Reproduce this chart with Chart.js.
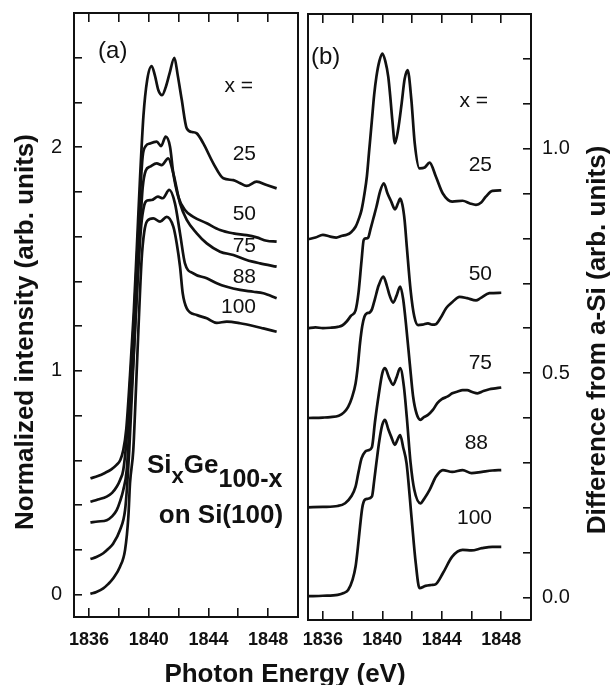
<!DOCTYPE html>
<html>
<head>
<meta charset="utf-8">
<title>Si K-edge XANES, SixGe100-x on Si(100)</title>
<script src="https://cdn.jsdelivr.net/npm/chart.js@4.4.1/dist/chart.umd.min.js"></script>
<style>
  html, body { margin: 0; padding: 0; background: #fff; }
  #wrap { position: relative; width: 610px; height: 685px; }
  #wrap canvas { position: absolute; left: 0; top: 0; }
</style>
</head>
<body>
<div id="wrap">
  <canvas id="chartA" width="610" height="685"></canvas>
  <canvas id="chartB" width="610" height="685"></canvas>
</div>
<script>
// Si content x of each film, top to bottom
const compositions = ['25', '50', '75', '88', '100'];

// Photon energy ticks (eV), shared by both panels
const energyTicks = [1836, 1838, 1840, 1842, 1844, 1846, 1848];
const energyLabels = [1836, 1840, 1844, 1848];

// Panel (a) y ticks: normalized intensity
const intensityTicks = [0, 0.2, 0.4, 0.6, 0.8, 1, 1.2, 1.4, 1.6, 1.8, 2, 2.2, 2.4];
const intensityLabels = [0, 1, 2];

// Panel (b) y ticks: difference from a-Si
const diffTicks = [0, 0.1, 0.2, 0.3, 0.4, 0.5, 0.6, 0.7, 0.8, 0.9, 1, 1.1, 1.2];
const diffLabels = [0, 0.5, 1];

// Panel (a): normalized spectra (offset)
const a25E = [1836.1, 1836.6, 1837.1, 1837.5, 1837.85, 1838.1, 1838.3, 1838.5, 1838.75, 1839.0, 1839.2, 1839.42, 1839.65, 1839.9, 1840.2, 1840.42, 1840.65, 1840.9, 1841.15, 1841.4, 1841.72, 1841.95, 1842.21, 1842.55, 1842.9, 1843.22, 1843.66, 1844.33, 1845.0, 1845.67, 1846.1, 1846.56, 1847.23, 1847.9, 1848.57];
const a25I = [0.52, 0.53, 0.545, 0.56, 0.58, 0.602, 0.646, 0.74, 0.98, 1.26, 1.54, 1.86, 2.14, 2.30, 2.363, 2.32, 2.255, 2.233, 2.27, 2.33, 2.40, 2.32, 2.214, 2.084, 2.068, 2.062, 2.017, 1.928, 1.861, 1.853, 1.84, 1.827, 1.846, 1.831, 1.816];

const a50E = [1836.1, 1836.6, 1837.19, 1837.55, 1837.86, 1838.1, 1838.3, 1838.5, 1838.75, 1839.0, 1839.2, 1839.42, 1839.6, 1839.8, 1840.09, 1840.54, 1840.83, 1841.14, 1841.43, 1841.65, 1841.98, 1842.43, 1842.99, 1843.89, 1844.78, 1845.67, 1846.56, 1847.23, 1847.9, 1848.57];
const a50I = [0.415, 0.425, 0.438, 0.455, 0.482, 0.515, 0.557, 0.68, 0.93, 1.21, 1.48, 1.78, 1.96, 2.005, 2.017, 2.025, 2.005, 2.047, 2.002, 1.883, 1.779, 1.719, 1.689, 1.66, 1.63, 1.615, 1.607, 1.597, 1.582, 1.578];

const a75E = [1836.1, 1836.6, 1837.19, 1837.55, 1837.86, 1838.1, 1838.3, 1838.53, 1838.75, 1839.0, 1839.2, 1839.42, 1839.6, 1839.8, 1840.09, 1840.54, 1840.87, 1841.31, 1841.65, 1842.1, 1842.55, 1843.22, 1843.89, 1844.78, 1845.67, 1846.56, 1847.46, 1848.57];
const a75I = [0.323, 0.327, 0.333, 0.35, 0.378, 0.42, 0.468, 0.557, 0.80, 1.08, 1.35, 1.63, 1.82, 1.895, 1.913, 1.928, 1.92, 1.95, 1.883, 1.749, 1.675, 1.615, 1.57, 1.533, 1.518, 1.496, 1.481, 1.466];

const a88E = [1836.1, 1836.5, 1836.96, 1837.3, 1837.63, 1838.08, 1838.42, 1838.57, 1838.7, 1838.9, 1839.1, 1839.3, 1839.5, 1839.7, 1839.9, 1840.2, 1840.62, 1840.94, 1841.38, 1841.76, 1842.1, 1842.43, 1842.99, 1843.89, 1844.56, 1845.23, 1846.12, 1847.01, 1847.68, 1848.57];
const a88I = [0.159, 0.168, 0.185, 0.205, 0.229, 0.289, 0.378, 0.498, 0.646, 0.93, 1.2, 1.45, 1.65, 1.74, 1.762, 1.764, 1.779, 1.772, 1.809, 1.749, 1.615, 1.481, 1.436, 1.414, 1.392, 1.376, 1.362, 1.354, 1.347, 1.325];

const a100E = [1836.1, 1836.5, 1836.96, 1837.3, 1837.63, 1838.08, 1838.42, 1838.64, 1838.75, 1838.97, 1839.15, 1839.31, 1839.53, 1839.7, 1839.9, 1840.31, 1840.76, 1841.21, 1841.65, 1841.88, 1842.1, 1842.28, 1842.55, 1843.22, 1843.89, 1844.56, 1845.23, 1846.12, 1847.01, 1847.68, 1848.57];
const a100I = [0.003, 0.012, 0.028, 0.048, 0.073, 0.125, 0.2, 0.348, 0.498, 0.646, 0.92, 1.18, 1.50, 1.62, 1.67, 1.682, 1.667, 1.689, 1.645, 1.57, 1.466, 1.347, 1.28, 1.25, 1.235, 1.215, 1.22, 1.213, 1.201, 1.19, 1.175];

// Panel (b): difference spectra (offset)
const b25E = [1835.0, 1835.5, 1836.0, 1836.5, 1836.9, 1837.3, 1837.6, 1837.9, 1838.2, 1838.4, 1838.6, 1838.8, 1838.96, 1839.1, 1839.3, 1839.45, 1839.6, 1839.8, 1840.0, 1840.2, 1840.4, 1840.55, 1840.67, 1840.85, 1841.05, 1841.3, 1841.5, 1841.7, 1841.95, 1842.18, 1842.5, 1842.85, 1843.18, 1843.6, 1844.07, 1844.7, 1845.4, 1845.9, 1846.3, 1846.65, 1846.96, 1847.4, 1848.0];
const b25I = [0.798, 0.802, 0.808, 0.804, 0.802, 0.806, 0.808, 0.814, 0.826, 0.842, 0.863, 0.90, 0.938, 0.99, 1.064, 1.12, 1.160, 1.195, 1.212, 1.195, 1.160, 1.11, 1.064, 1.012, 1.04, 1.101, 1.155, 1.175, 1.11, 1.012, 0.956, 0.958, 0.969, 0.938, 0.90, 0.882, 0.884, 0.878, 0.875, 0.88, 0.893, 0.906, 0.907];

const b50E = [1835.0, 1835.5, 1836.0, 1836.5, 1837.0, 1837.3, 1837.6, 1837.9, 1838.2, 1838.4, 1838.6, 1838.75, 1838.9, 1839.05, 1839.2, 1839.4, 1839.6, 1839.85, 1840.1, 1840.35, 1840.6, 1840.85, 1841.05, 1841.2, 1841.35, 1841.5, 1841.65, 1841.9, 1842.15, 1842.4, 1842.7, 1843.07, 1843.35, 1843.6, 1843.9, 1844.3, 1844.7, 1845.2, 1845.7, 1846.3, 1846.6, 1847.2, 1848.0];
const b50I = [0.600, 0.602, 0.600, 0.601, 0.603, 0.606, 0.615, 0.628, 0.64, 0.68, 0.75, 0.797, 0.80, 0.802, 0.82, 0.845, 0.87, 0.905, 0.923, 0.90, 0.882, 0.865, 0.878, 0.889, 0.875, 0.84, 0.78, 0.685, 0.626, 0.607, 0.608, 0.611, 0.608, 0.609, 0.622, 0.645, 0.658, 0.670, 0.667, 0.662, 0.667, 0.678, 0.679];

const b75E = [1835.0, 1836.0, 1836.5, 1837.07, 1837.4, 1837.7, 1837.95, 1838.2, 1838.35, 1838.5, 1838.65, 1838.8, 1838.95, 1839.15, 1839.3, 1839.5, 1839.75, 1840.07, 1840.3, 1840.5, 1840.73, 1840.95, 1841.2, 1841.4, 1841.63, 1841.85, 1842.07, 1842.3, 1842.56, 1842.8, 1843.07, 1843.4, 1843.7, 1844.0, 1844.4, 1844.7, 1845.07, 1845.4, 1845.7, 1846.05, 1846.4, 1846.8, 1847.2, 1847.6, 1848.0];
const b75I = [0.400, 0.401, 0.402, 0.405, 0.412, 0.425, 0.445, 0.477, 0.515, 0.567, 0.605, 0.626, 0.633, 0.635, 0.642, 0.665, 0.695, 0.715, 0.695, 0.672, 0.657, 0.672, 0.693, 0.665, 0.596, 0.52, 0.448, 0.41, 0.396, 0.402, 0.407, 0.418, 0.433, 0.442, 0.448, 0.455, 0.459, 0.462, 0.462, 0.458, 0.455, 0.460, 0.464, 0.466, 0.468];

const b88E = [1835.0, 1836.0, 1837.0, 1837.5, 1837.9, 1838.2, 1838.4, 1838.6, 1838.85, 1839.05, 1839.3, 1839.5, 1839.75, 1840.0, 1840.18, 1840.45, 1840.73, 1840.95, 1841.2, 1841.45, 1841.65, 1841.9, 1842.15, 1842.56, 1842.85, 1843.18, 1843.6, 1844.07, 1844.7, 1845.4, 1846.0, 1846.7, 1847.4, 1848.0];
const b88I = [0.201, 0.202, 0.204, 0.21, 0.225, 0.247, 0.28, 0.31, 0.325, 0.328, 0.335, 0.39, 0.45, 0.50, 0.511, 0.49, 0.474, 0.49, 0.511, 0.47, 0.40, 0.30, 0.24, 0.21, 0.222, 0.24, 0.269, 0.284, 0.28, 0.284, 0.277, 0.28, 0.283, 0.284];

const b100E = [1835.0, 1836.0, 1837.0, 1837.4, 1837.7, 1838.0, 1838.2, 1838.35, 1838.5, 1838.65, 1838.8, 1839.0, 1839.3, 1839.45, 1839.6, 1839.8, 1840.0, 1840.18, 1840.4, 1840.6, 1840.85, 1841.0, 1841.2, 1841.4, 1841.63, 1841.96, 1842.25, 1842.5, 1842.9, 1843.3, 1843.6, 1844.07, 1844.7, 1845.4, 1846.0, 1846.7, 1847.4, 1848.0];
const b100I = [0.003, 0.004, 0.006, 0.01, 0.017, 0.04, 0.069, 0.11, 0.158, 0.20, 0.217, 0.22, 0.225, 0.26, 0.30, 0.35, 0.385, 0.396, 0.375, 0.358, 0.340, 0.35, 0.362, 0.335, 0.299, 0.180, 0.076, 0.021, 0.026, 0.028, 0.03, 0.054, 0.091, 0.106, 0.105, 0.11, 0.113, 0.113];

const FONT = '"Liberation Sans", Arial, Helvetica, sans-serif';
const INK = '#111';

function toPoints(es, vs) {
  return es.map((e, i) => ({ x: e, y: vs[i] }));
}

function curve(label, es, vs) {
  return {
    label: label,
    data: toPoints(es, vs),
    borderColor: INK,
    borderWidth: 2.7,
    pointRadius: 0,
    fill: false,
    cubicInterpolationMode: 'monotone'
  };
}

function hasLabel(list, v) {
  return list.some(l => Math.abs(l - v) < 1e-6);
}

function setTicks(list) {
  return scale => { scale.ticks = list.map(v => ({ value: v })); };
}

// fixed box size, and no extra label overflow pushing the plot area around
function fixSize(w, h) {
  return s => {
    if (w !== null) s.width = w;
    if (h !== null) s.height = h;
    s.paddingTop = 0; s.paddingBottom = 0; s.paddingLeft = 0; s.paddingRight = 0;
  };
}

// inward tick marks via negative tickLength
function tickGrid(len) {
  return { display: true, drawOnChartArea: false, drawTicks: true, tickLength: -len, color: INK, lineWidth: 1.6 };
}

const frame = { display: true, color: INK, width: 2 };

// draws panel letters, compositions and axis titles
const textPlugin = {
  id: 'panelText',
  afterDraw(chart, args, opts) {
    const { ctx, scales } = chart;
    ctx.save();
    ctx.fillStyle = INK;
    (opts.labels || []).forEach(l => {
      let px = scales.x.getPixelForValue(l.e);
      const py = scales.y.getPixelForValue(l.v);
      ctx.textBaseline = l.baseline || 'middle';
      if (l.runs) {
        ctx.textAlign = 'left';
        l.runs.forEach(r => {
          ctx.font = 'bold ' + r.size + 'px ' + FONT;
          ctx.fillText(r.t, px, py + r.dy);
          px += ctx.measureText(r.t).width;
        });
      } else {
        ctx.font = l.font;
        ctx.textAlign = l.align || 'left';
        ctx.fillText(l.text, px, py);
      }
    });
    (opts.titles || []).forEach(t => {
      ctx.save();
      ctx.translate(t.x, t.y);
      ctx.rotate(t.rot || 0);
      ctx.font = 'bold 26px ' + FONT;
      ctx.textAlign = 'center';
      ctx.textBaseline = 'alphabetic';
      ctx.fillText(t.text, 0, 0);
      ctx.restore();
    });
    ctx.restore();
  }
};

const numFont = 'normal 21px ' + FONT;

function energyAxis(pos, height, labelled, pad) {
  return {
    type: 'linear', position: pos, min: 1835, max: 1850,
    afterBuildTicks: setTicks(energyTicks),
    afterFit: fixSize(null, height),
    grid: tickGrid(9),
    border: frame,
    ticks: {
      display: labelled, autoSkip: false, maxRotation: 0, padding: pad, color: INK,
      font: { family: FONT, size: 18, weight: 'bold', lineHeight: 1 },
      callback: v => hasLabel(energyLabels, v) ? String(v) : ''
    }
  };
}

function plainEdge(pos, min, max) {
  return {
    type: 'linear', position: pos, min: min, max: max,
    afterFit: fixSize(0, null),
    grid: { display: false, drawTicks: false, drawOnChartArea: false },
    border: frame,
    ticks: { display: false }
  };
}

const common = {
  responsive: false,
  animation: false,
  events: [],
  plugins: { legend: { display: false }, tooltip: { enabled: false } }
};

const series = [
  [a25E, a25I, b25E, b25I],
  [a50E, a50I, b50E, b50I],
  [a75E, a75I, b75E, b75I],
  [a88E, a88I, b88E, b88I],
  [a100E, a100I, b100E, b100I]
];

new Chart(document.getElementById('chartA'), {
  type: 'line',
  data: { datasets: series.map((s, i) => curve(compositions[i], s[0], s[1])) },
  plugins: [textPlugin],
  options: Object.assign({}, common, {
    layout: { padding: { left: 0, right: 312, top: 13, bottom: 0 } },
    scales: {
      x: energyAxis('bottom', 68, true, 23),
      xTop: energyAxis('top', 0, false, 0),
      y: {
        type: 'linear', position: 'left', min: -0.1, max: 2.6,
        afterBuildTicks: setTicks(intensityTicks),
        afterFit: fixSize(74, null),
        grid: tickGrid(8),
        border: frame,
        ticks: {
          autoSkip: false, padding: 20, color: INK,
          font: { family: FONT, size: 20 },
          callback: v => hasLabel(intensityLabels, v) ? String(v) : ''
        }
      },
      yRight: plainEdge('right', -0.1, 2.6)
    },
    plugins: Object.assign({}, common.plugins, {
      panelText: {
        labels: [
          { text: '(a)', e: 1836.61, v: 2.43, font: 'normal 24px ' + FONT },
          { text: 'x =', e: 1846.99, v: 2.274, align: 'right', font: numFont },
          { text: compositions[0], e: 1847.19, v: 1.967, align: 'right', font: numFont },
          { text: compositions[1], e: 1847.19, v: 1.699, align: 'right', font: numFont },
          { text: compositions[2], e: 1847.19, v: 1.556, align: 'right', font: numFont },
          { text: compositions[3], e: 1847.19, v: 1.418, align: 'right', font: numFont },
          { text: compositions[4], e: 1847.19, v: 1.284, align: 'right', font: numFont },
          { e: 1839.89, v: 0.544, baseline: 'alphabetic', runs: [
            { t: 'Si', size: 26, dy: 0 },
            { t: 'x', size: 22, dy: 10 },
            { t: 'Ge', size: 26, dy: 0 },
            { t: '100-x', size: 25, dy: 14 }
          ] },
          { text: 'on Si(100)', e: 1844.84, v: 0.32, align: 'center', baseline: 'alphabetic', font: 'bold 26px ' + FONT }
        ],
        titles: [
          { text: 'Normalized intensity (arb. units)', x: 33, y: 332, rot: -Math.PI / 2 },
          { text: 'Photon Energy (eV)', x: 285, y: 682 }
        ]
      }
    })
  })
});

new Chart(document.getElementById('chartB'), {
  type: 'line',
  data: { datasets: series.map((s, i) => curve(compositions[i], s[2], s[3])) },
  plugins: [textPlugin],
  options: Object.assign({}, common, {
    layout: { padding: { left: 308, right: 0, top: 14, bottom: 0 } },
    scales: {
      x: energyAxis('bottom', 65, true, 20),
      xTop: energyAxis('top', 0, false, 0),
      y: {
        type: 'linear', position: 'right', min: -0.05, max: 1.3,
        afterBuildTicks: setTicks(diffTicks),
        afterFit: fixSize(79, null),
        grid: tickGrid(8),
        border: frame,
        ticks: {
          autoSkip: false, padding: 19, color: INK,
          font: { family: FONT, size: 20 },
          callback: v => hasLabel(diffLabels, v) ? v.toFixed(1) : ''
        }
      },
      yLeft: plainEdge('left', -0.05, 1.3)
    },
    plugins: Object.assign({}, common.plugins, {
      panelText: {
        labels: [
          { text: '(b)', e: 1835.2, v: 1.204, font: 'normal 24px ' + FONT },
          { text: 'x =', e: 1847.11, v: 1.106, align: 'right', font: numFont },
          { text: compositions[0], e: 1847.38, v: 0.9625, align: 'right', font: numFont },
          { text: compositions[1], e: 1847.38, v: 0.7197, align: 'right', font: numFont },
          { text: compositions[2], e: 1847.38, v: 0.5214, align: 'right', font: numFont },
          { text: compositions[3], e: 1847.11, v: 0.343, align: 'right', font: numFont },
          { text: compositions[4], e: 1847.38, v: 0.176, align: 'right', font: numFont }
        ],
        titles: [
          { text: 'Difference from a-Si (arb. units)', x: 605, y: 340, rot: -Math.PI / 2 }
        ]
      }
    })
  })
});
</script>
</body>
</html>
